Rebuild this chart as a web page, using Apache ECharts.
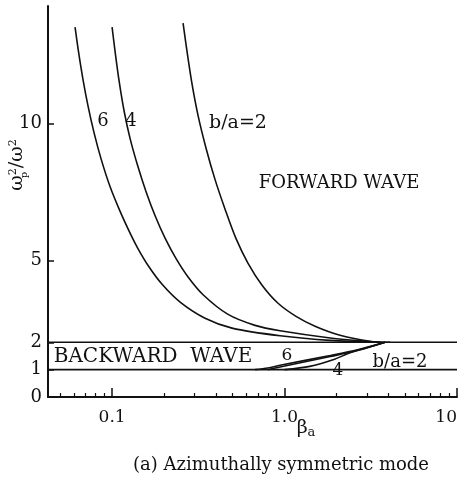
<!DOCTYPE html>
<html>
<head>
<meta charset="utf-8">
<script src="https://cdn.jsdelivr.net/npm/echarts@6/dist/echarts.min.js"></script>
<style>
    html, body { margin: 0; padding: 0; background: #fff; }
    #modeChart { width: 463px; height: 483px; }
</style>
</head>
<body>
<div id="modeChart"></div>
<script>
// beta*a on a log axis, (wp/w)^2 on a linear axis
const xMin = 0.0425;
const xMax = 10;
const yMax = 14.3;
const yTicks = [0, 1, 2, 5, 10];
const xMajorTicks = [0.1, 1, 10];
const xMinorTicks = [0.05, 0.06, 0.07, 0.08, 0.09,
    0.2, 0.3, 0.4, 0.5, 0.6, 0.7, 0.8, 0.9,
    2, 3, 4, 5, 6, 7, 8, 9];

// forward wave branches
const fwd6Beta = [0.0610, 0.0639, 0.0679, 0.0726, 0.0787, 0.0864, 0.0974, 0.1113, 0.1288, 0.1415, 0.1617, 0.195, 0.248, 0.346, 0.496, 0.942, 1.84, 3.58];
const fwd6Val = [13.53, 12.62, 11.59, 10.63, 9.65, 8.70, 7.69, 6.79, 5.92, 5.42, 4.81, 4.12, 3.47, 2.88, 2.52, 2.24, 2.07, 2.0];
const fwd4Beta = [0.100, 0.1041, 0.1098, 0.1174, 0.1271, 0.1415, 0.1574, 0.1776, 0.2029, 0.235, 0.2758, 0.337, 0.4705, 0.6745, 0.942, 1.84, 3.58];
const fwd4Val = [13.53, 12.63, 11.56, 10.46, 9.46, 8.41, 7.51, 6.63, 5.81, 5.06, 4.39, 3.74, 3.02, 2.62, 2.42, 2.16, 2.0];
const fwd2Beta = [0.258, 0.2721, 0.2909, 0.3152, 0.3506, 0.3955, 0.452, 0.5234, 0.6143, 0.7406, 0.917, 1.166, 1.502, 2.097, 3.131, 4.089];
const fwd2Val = [13.67, 12.63, 11.44, 10.29, 9.10, 7.95, 6.87, 5.79, 4.89, 4.09, 3.43, 2.95, 2.59, 2.26, 2.04, 2.0];

// backward wave branches
const bwd6Beta = [0.675, 0.80, 0.942, 1.84, 2.65, 3.83];
const bwd6Val = [1.0, 1.06, 1.16, 1.52, 1.73, 2.0];
const bwd4Beta = [1.0, 1.4, 1.91, 2.4, 3.0, 3.83];
const bwd4Val = [1.0, 1.12, 1.36, 1.62, 1.80, 2.0];
const bwd2Beta = [0.80, 0.942, 1.84, 2.65, 3.83];
const bwd2Val = [1.0, 1.10, 1.48, 1.70, 2.0];

// the two asymptotes
const limitBeta = [xMin, xMax];
const upperLimitVal = [2, 2];
const lowerLimitVal = [1, 1];

const serifFont = '"DejaVu Serif", "Liberation Serif", serif';

function zip(xs, ys) {
    let res = [];
    for (let i = 0; i < xs.length; i++) {
        res.push([xs[i], ys[i]]);
    }
    return res;
}

function curve(name, xs, ys, smooth) {
    return {
        name: name,
        type: 'line',
        xAxisIndex: 0,
        data: zip(xs, ys),
        showSymbol: false,
        smooth: smooth,
        silent: true,
        lineStyle: {
            color: '#111',
            width: 1.6
        }
    };
}

function note(text, x, y, size) {
    return {
        type: 'text',
        x: x,
        y: y,
        style: {
            text: text,
            font: size + 'px ' + serifFont,
            fill: '#111',
            align: 'center',
            verticalAlign: 'middle'
        }
    };
}

let modeChart = echarts.init(document.getElementById('modeChart'));

let modeOption = {
    animation: false,
    backgroundColor: '#fff',
    grid: {
        left: 48,
        right: 6,
        top: 6,
        bottom: 86
    },
    xAxis: [
        {
            type: 'log',
            logBase: 10,
            min: xMin,
            max: xMax,
            axisLine: {lineStyle: {color: '#111', width: 2}},
            axisTick: {
                inside: true,
                length: 9,
                customValues: xMajorTicks,
                lineStyle: {color: '#111', width: 1.5}
            },
            axisLabel: {
                customValues: xMajorTicks,
                margin: 12,
                alignMaxLabel: 'right',
                color: '#111',
                fontFamily: serifFont,
                fontSize: 17,
                formatter: function (v) {
                    if (v === 1) return '1.0';
                    return String(v);
                }
            },
            splitLine: {show: false}
        },
        {
            type: 'log',
            logBase: 10,
            min: xMin,
            max: xMax,
            position: 'bottom',
            axisLine: {show: false},
            axisTick: {
                inside: true,
                length: 4,
                customValues: xMinorTicks,
                lineStyle: {color: '#111', width: 1.2}
            },
            axisLabel: {show: false},
            splitLine: {show: false}
        }
    ],
    yAxis: {
        type: 'value',
        min: 0,
        max: yMax,
        axisLine: {show: true, lineStyle: {color: '#111', width: 2}},
        axisTick: {
            show: true,
            inside: true,
            length: 6,
            customValues: yTicks,
            lineStyle: {color: '#111', width: 1.5}
        },
        axisLabel: {
            customValues: yTicks,
            margin: 6,
            color: '#111',
            fontFamily: serifFont,
            fontSize: 18
        },
        splitLine: {show: false}
    },
    series: [
        curve('upper limit', limitBeta, upperLimitVal, false),
        curve('lower limit', limitBeta, lowerLimitVal, false),
        curve('forward 6', fwd6Beta, fwd6Val, 0.3),
        curve('forward 4', fwd4Beta, fwd4Val, 0.3),
        curve('forward 2', fwd2Beta, fwd2Val, 0.3),
        curve('backward 6', bwd6Beta, bwd6Val, 0.3),
        curve('backward 4', bwd4Beta, bwd4Val, 0.3),
        curve('backward 2', bwd2Beta, bwd2Val, 0.3)
    ],
    graphic: [
        note('6', 103, 121, 18),
        note('4', 131, 121, 18),
        note('b/a=2', 238, 123, 19),
        note('FORWARD WAVE', 339, 183, 18),
        note('BACKWARD  WAVE', 153, 357, 20),
        note('6', 287, 356, 17),
        note('4', 338, 371, 17),
        note('b/a=2', 400, 362, 18),
        note('(a) Azimuthally symmetric mode', 281, 465, 18),
        {
            type: 'text',
            x: 17,
            y: 165,
            rotation: Math.PI / 2,
            style: {
                text: '{w|ω}{s|2}{w|/ω}{t|2}',
                align: 'center',
                verticalAlign: 'middle',
                fill: '#111',
                rich: {
                    w: {fontFamily: serifFont, fontSize: 19, fill: '#111'},
                    s: {fontFamily: serifFont, fontSize: 11, fill: '#111', verticalAlign: 'top', padding: [0, 0, 8, 0]},
                    t: {fontFamily: serifFont, fontSize: 11, fill: '#111', verticalAlign: 'top', padding: [0, 0, 8, 0]}
                }
            }
        },
        {
            type: 'text',
            x: 16,
            y: 165,
            rotation: Math.PI / 2,
            style: {
                text: 'p',
                x: -10,
                y: 8,
                font: '10px ' + serifFont,
                fill: '#111',
                align: 'center',
                verticalAlign: 'middle'
            }
        },
        {
            type: 'text',
            x: 306,
            y: 428,
            style: {
                text: '{b|β}{s|a}',
                align: 'center',
                verticalAlign: 'middle',
                fill: '#111',
                rich: {
                    b: {fontFamily: serifFont, fontSize: 19, fill: '#111'},
                    s: {fontFamily: serifFont, fontSize: 13, fill: '#111', padding: [10, 0, 0, 0]}
                }
            }
        }
    ]
};

modeChart.setOption(modeOption);

window.onresize = function () {
    modeChart.resize();
};
</script>
</body>
</html>
